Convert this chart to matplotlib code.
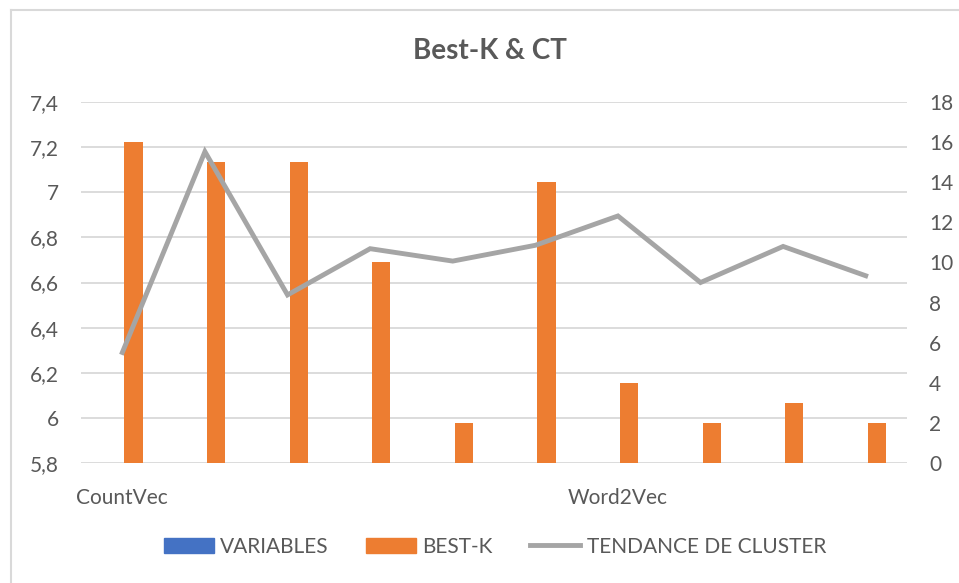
import matplotlib.pyplot as plt
from matplotlib.lines import Line2D
from matplotlib.patches import Patch
from matplotlib.ticker import FuncFormatter

plt.rcParams['font.family'] = ['Lato', 'DejaVu Sans']

categories = ['CountVec', '', '', '', '', '', 'Word2Vec', '', '', '']
variables = [0, 0, 0, 0, 0, 0, 0, 0, 0, 0]
best_k = [16, 15, 15, 10, 2, 14, 4, 2, 3, 2]
tendance = [6.29, 7.18, 6.545, 6.75, 6.695, 6.765, 6.895, 6.60, 6.76, 6.63]
left_ticks = [5.8, 6.0, 6.2, 6.4, 6.6, 6.8, 7.0, 7.2, 7.4]
right_ticks = list(range(0, 19, 2))

GREY_TXT = '#595959'
GRID = '#d9d9d9'
BLUE = '#4472c4'
ORANGE = '#ed7d31'
LINE = '#a5a5a5'
FS = 15

fig = plt.figure(figsize=(9.59, 5.83), dpi=100)
ax = fig.add_axes([0.0845, 0.2058, 0.8613, 0.6192])
ax2 = ax.twinx()

x = list(range(len(categories)))
w = 0.222
off = 0.135

ax.set_xlim(-0.5, len(categories) - 0.5)
ax.set_ylim(5.8, 7.4)
ax2.set_ylim(0, 18)

# gridlines follow the primary axis but sit under the bars
for v in left_ticks:
    ax2.add_line(Line2D([0, 1], [v, v], transform=ax.get_yaxis_transform(),
                        color=GRID, lw=1.3, zorder=0))

# left axis: VARIABLES bars + trend line, right axis: BEST-K bars
ax.bar([i - off for i in x], variables, width=w, color=BLUE, zorder=2)
ax2.bar([i + off for i in x], best_k, width=w, color=ORANGE, zorder=2)
ax.plot(x, tendance, color=LINE, lw=3.5, solid_joinstyle='miter', zorder=5, clip_on=False)

# trend line sits over the bars
ax.set_zorder(ax2.get_zorder() + 1)
ax.patch.set_visible(False)

ax.set_yticks(left_ticks)
ax.yaxis.set_major_formatter(FuncFormatter(lambda v, p: ('%g' % round(v, 1)).replace('.', ',')))
ax2.set_yticks(right_ticks)

for a in (ax, ax2):
    for s in a.spines.values():
        s.set_visible(False)
    a.tick_params(axis='y', length=0, labelsize=FS, labelcolor=GREY_TXT, pad=16)

ax.set_xticks(x)
ax.set_xticklabels(categories, fontsize=FS, color=GREY_TXT)
ax.tick_params(axis='x', length=0, pad=18)

fig.text(0.511, 0.913, 'Best-K & CT', ha='center', va='center',
         fontsize=20, fontweight='bold', color=GREY_TXT)

handles = [Patch(color=BLUE), Patch(color=ORANGE), Line2D([], [], color=LINE, lw=3.5)]
fig.legend(handles, ['VARIABLES', 'BEST-K', 'TENDANCE DE CLUSTER'],
           loc='center', bbox_to_anchor=(0.516, 0.062), ncol=3, frameon=False,
           fontsize=FS, labelcolor=GREY_TXT, handlelength=2.4, handleheight=0.75,
           handletextpad=0.3, columnspacing=1.8)

# chart border (left and top edges)
fig.add_artist(Line2D([0.0115, 0.0115], [0, 0.983], color='#d9d9d9', lw=1.5))
fig.add_artist(Line2D([0.0115, 1.0], [0.983, 0.983], color='#d9d9d9', lw=1.5))

fig.savefig('out.png', dpi=100)
